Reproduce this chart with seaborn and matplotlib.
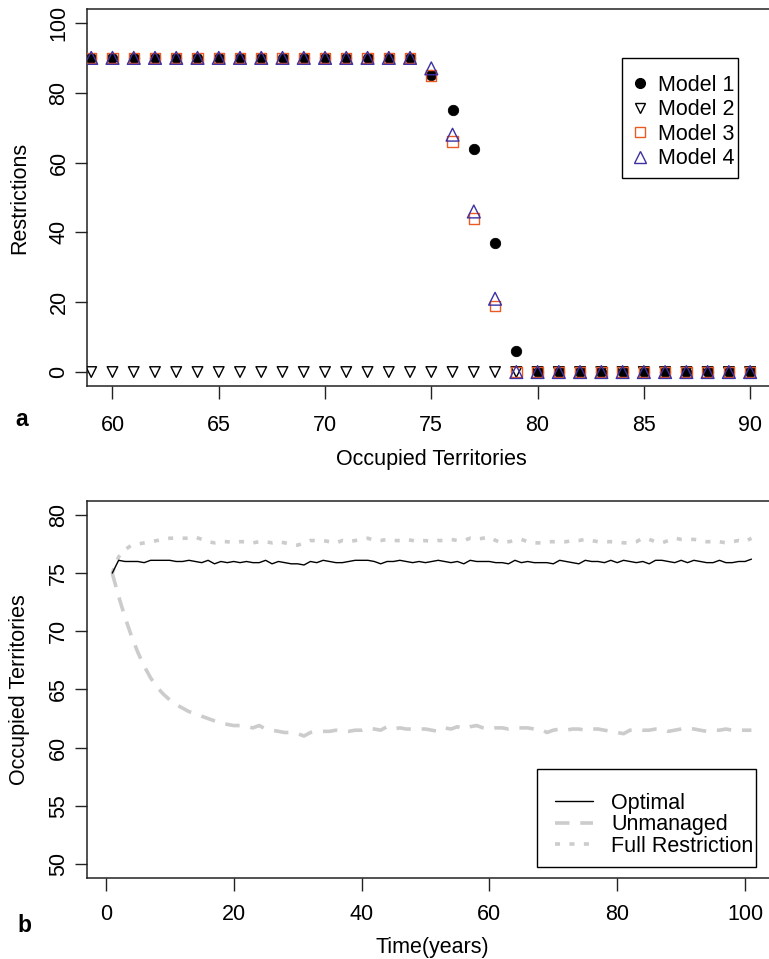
import numpy as np
import pandas as pd
import matplotlib
matplotlib.use("Agg")
import matplotlib.pyplot as plt
from matplotlib.lines import Line2D
from matplotlib.patches import Rectangle
import seaborn as sns

# ---- panel a: restrictions vs occupied territories ----
territories = list(range(59, 91))
model1 = [90] * 16 + [85, 75, 64, 37, 6] + [0] * 11
model2 = [0] * 32
model3 = [90] * 16 + [85, 66, 44, 19, 0] + [0] * 11
model4 = [90] * 16 + [87, 68, 46, 21, 0] + [0] * 11

# ---- panel b: occupied territories over time ----
years = list(range(1, 102))
optimal = [75.0, 76.1, 76.0, 76.0, 76.0, 75.9, 76.1, 76.1, 76.1, 76.1,
           76.0, 76.0, 76.1, 76.0, 75.9, 76.1, 75.8, 76.0, 75.9, 76.0,
           75.9, 76.0, 75.9, 75.9, 76.1, 75.8, 76.0, 75.9, 75.8, 75.8,
           75.7, 76.0, 75.9, 76.1, 76.0, 75.9, 75.9, 76.0, 76.1, 76.1,
           76.1, 76.0, 75.8, 76.0, 76.0, 76.1, 76.0, 75.9, 76.0, 75.9,
           76.0, 76.1, 76.0, 75.9, 76.0, 75.8, 76.1, 76.0, 76.0, 76.0,
           75.9, 75.9, 75.8, 76.1, 75.9, 76.0, 75.9, 75.9, 75.9, 75.8,
           76.1, 76.0, 75.9, 75.8, 76.1, 76.0, 76.0, 75.9, 76.1, 75.9,
           76.1, 76.0, 75.9, 76.0, 75.8, 76.1, 76.1, 76.0, 75.9, 76.1,
           75.9, 76.1, 76.0, 75.9, 75.9, 76.1, 75.9, 75.9, 76.0, 76.0,
           76.2]
unmanaged = [75.0, 73.0, 71.2, 69.6, 68.2, 67.0, 66.0, 65.2, 64.6, 64.1,
             63.7, 63.4, 63.1, 62.9, 62.7, 62.5, 62.3, 62.1, 62.0, 61.9,
             61.9, 61.8, 61.7, 61.9, 61.6, 61.5, 61.4, 61.3, 61.3, 61.2,
             61.0, 61.3, 61.4, 61.4, 61.4, 61.5, 61.4, 61.4, 61.5, 61.5,
             61.7, 61.6, 61.5, 61.8, 61.6, 61.7, 61.6, 61.6, 61.6, 61.6,
             61.5, 61.4, 61.7, 61.6, 61.8, 61.6, 61.8, 61.9, 61.7, 61.6,
             61.7, 61.7, 61.6, 61.7, 61.7, 61.7, 61.6, 61.6, 61.3, 61.5,
             61.6, 61.5, 61.6, 61.6, 61.5, 61.6, 61.6, 61.5, 61.4, 61.3,
             61.2, 61.5, 61.6, 61.5, 61.5, 61.6, 61.6, 61.4, 61.5, 61.6,
             61.7, 61.6, 61.5, 61.4, 61.5, 61.5, 61.6, 61.5, 61.5, 61.5,
             61.5]
full_restriction = [75.0, 76.4, 77.0, 77.4, 77.5, 77.6, 77.7, 77.8, 77.9, 78.0,
                    78.0, 78.0, 78.0, 78.1, 77.9, 77.7, 77.6, 77.7, 77.7, 77.6,
                    77.7, 77.7, 77.6, 77.7, 77.7, 77.6, 77.7, 77.6, 77.5, 77.4,
                    77.6, 77.8, 77.8, 77.8, 77.7, 77.6, 77.8, 77.7, 77.8, 77.9,
                    78.0, 77.8, 77.8, 77.9, 77.8, 77.8, 77.9, 77.8, 77.7, 77.8,
                    77.7, 77.8, 77.8, 77.9, 77.8, 77.8, 78.0, 77.9, 78.0, 78.1,
                    77.8, 77.6, 77.7, 77.8, 77.9, 77.7, 77.6, 77.6, 77.7, 77.7,
                    77.7, 77.7, 77.8, 77.8, 77.9, 77.8, 77.7, 77.7, 77.7, 77.7,
                    77.6, 77.6, 77.7, 78.0, 77.9, 77.7, 77.6, 77.8, 78.0, 77.9,
                    77.9, 77.9, 77.8, 77.7, 77.7, 77.7, 77.6, 77.7, 77.8, 77.7,
                    78.0]

sns.set_theme(style="ticks")
plt.rcParams["font.family"] = ["Liberation Sans", "DejaVu Sans"]
plt.rcParams["text.color"] = "black"
plt.rcParams["axes.labelcolor"] = "black"
plt.rcParams["xtick.color"] = "#222222"
plt.rcParams["ytick.color"] = "#222222"
plt.rcParams["xtick.labelcolor"] = "black"
plt.rcParams["ytick.labelcolor"] = "black"
plt.rcParams["axes.edgecolor"] = "#222222"
plt.rcParams["axes.linewidth"] = 1.1
FS = 15.5
W, H = 769, 959


def fx(px):
    return px / W


def fy(py):
    return 1 - py / H


fig = plt.figure(figsize=(7.69, 9.59), dpi=100)

# ---------------- panel a ----------------
ax1 = fig.add_axes([0.1131, 0.5975, 0.8955, 0.3931])
orange = "#ec5a24"
blue = "#3b31a3"

sns.scatterplot(x=territories, y=model1, ax=ax1, marker="o", color="black",
                s=56, linewidth=0.6, edgecolor="black", zorder=3)
sns.scatterplot(x=territories, y=model2, ax=ax1, marker="v", color="black",
                s=58, linewidth=1.0, zorder=3)
ax1.collections[-1].set_facecolor("none")
ax1.collections[-1].set_edgecolor("black")
sns.scatterplot(x=territories, y=model3, ax=ax1, marker="s", color=orange,
                s=56, linewidth=1.0, zorder=3)
ax1.collections[-1].set_facecolor("none")
ax1.collections[-1].set_edgecolor(orange)
sns.scatterplot(x=territories, y=model4, ax=ax1, marker="^", color=blue,
                s=85, linewidth=1.0, zorder=3)
ax1.collections[-1].set_facecolor("none")
ax1.collections[-1].set_edgecolor(blue)

ax1.set_xlim(58.8, 91.2)
ax1.set_ylim(-4, 104)
ax1.set_xticks([60, 65, 70, 75, 80, 85, 90])
ax1.set_yticks([0, 20, 40, 60, 80, 100])
ax1.set_xlabel("Occupied Territories", fontsize=FS, labelpad=9.5)
ax1.set_ylabel("Restrictions", fontsize=FS, labelpad=13)

leg1_handles = [
    Line2D([], [], marker="o", ls="", color="black", ms=7),
    Line2D([], [], marker="v", ls="", mfc="none", mec="black", ms=7.5, mew=1.0),
    Line2D([], [], marker="s", ls="", mfc="none", mec=orange, ms=7, mew=1.0),
    Line2D([], [], marker="^", ls="", mfc="none", mec=blue, ms=9, mew=1.0),
]
ax1.legend(leg1_handles, ["Model 1", "Model 2", "Model 3", "Model 4"],
           loc="upper left", bbox_to_anchor=(fx(631.5), fy(75)),
           bbox_transform=fig.transFigure, borderaxespad=0, borderpad=0,
           fontsize=FS, frameon=False, handlelength=0.8,
           handletextpad=0.44, labelspacing=0.16)
fig.patches.append(Rectangle((fx(622), fy(178)), fx(738) - fx(622),
                             fy(58) - fy(178), transform=fig.transFigure,
                             fill=False, edgecolor="black", linewidth=1.0,
                             zorder=5))

# ---------------- panel b ----------------
ax2 = fig.add_axes([0.1127, 0.0845, 0.8977, 0.3931])
gray = "#cccccc"
sns.lineplot(x=years, y=unmanaged, ax=ax2, color=gray, linewidth=2.6,
             zorder=2).lines[-1].set_dashes((4, 3))
sns.lineplot(x=years, y=full_restriction, ax=ax2, color=gray, linewidth=2.6,
             zorder=2).lines[-1].set_dashes((1.4, 2.6))
sns.lineplot(x=years, y=optimal, ax=ax2, color="black", linewidth=1.0, zorder=3)

ax2.set_xlim(-3, 105)
ax2.set_ylim(48.8, 81.2)
ax2.set_xticks([0, 20, 40, 60, 80, 100])
ax2.set_yticks([50, 55, 60, 65, 70, 75, 80])
ax2.set_xlabel("Time(years)", fontsize=FS, labelpad=9)
ax2.set_ylabel("Occupied Territories", fontsize=FS, labelpad=13)

leg2_handles = [
    Line2D([], [], color="black", lw=1.0),
    Line2D([], [], color=gray, lw=2.6, dashes=(4, 3)),
    Line2D([], [], color=gray, lw=2.6, dashes=(1.4, 2.6)),
]
ax2.legend(leg2_handles, ["Optimal", "Unmanaged", "Full Restriction"],
           loc="upper left", bbox_to_anchor=(fx(555), fy(792.5)),
           bbox_transform=fig.transFigure, borderaxespad=0, borderpad=0,
           fontsize=FS, frameon=False, handlelength=1.77,
           handletextpad=0.84, labelspacing=0.03)
fig.patches.append(Rectangle((fx(537), fy(867)), fx(756) - fx(537),
                             fy(769) - fy(867), transform=fig.transFigure,
                             fill=False, edgecolor="black", linewidth=1.0,
                             zorder=5))

for ax, xpad in ((ax1, 12), (ax2, 9.5)):
    ax.tick_params(axis="both", labelsize=FS, length=9, width=1.0,
                   direction="out")
    ax.tick_params(axis="x", pad=xpad)
    ax.tick_params(axis="y", pad=3.5)
    for lab in ax.get_yticklabels():
        lab.set_rotation(90)
        lab.set_va("center")
    for sp in ax.spines.values():
        sp.set_visible(True)

fig.text(fx(22), fy(426), "a", fontsize=FS + 1, fontweight="bold",
         ha="center", va="baseline")
fig.text(fx(24), fy(932), "b", fontsize=FS + 1, fontweight="bold",
         ha="center", va="baseline")

fig.savefig("out.png", dpi=100)
